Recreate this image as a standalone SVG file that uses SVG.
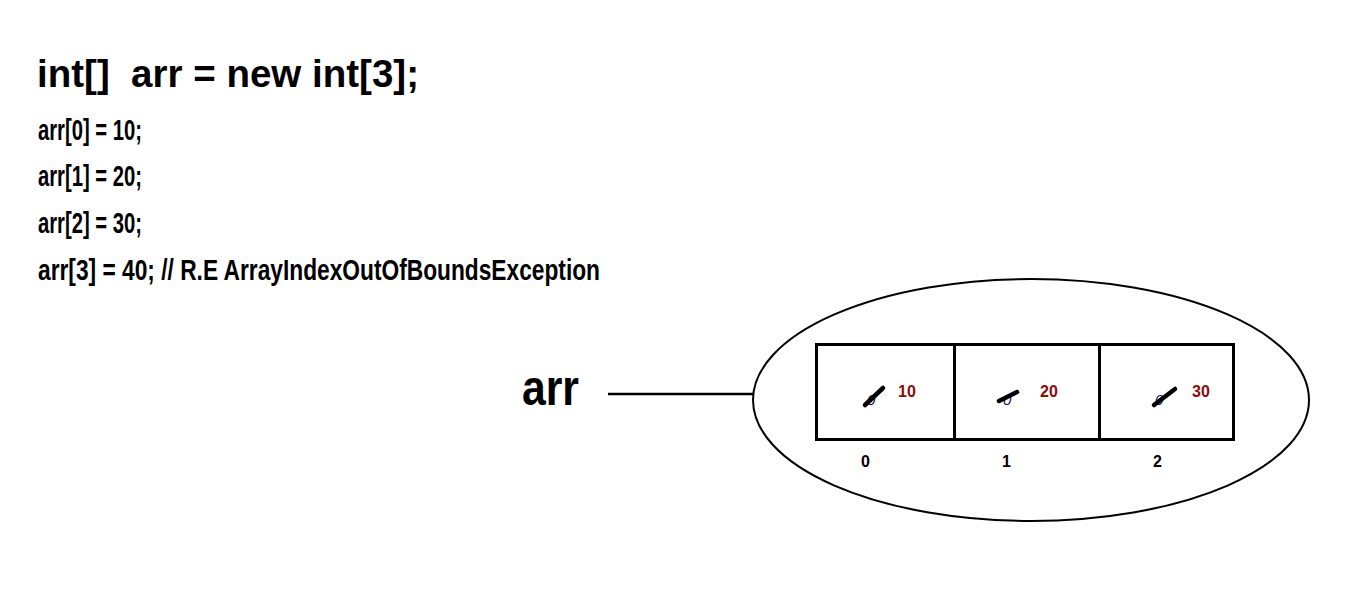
<svg xmlns="http://www.w3.org/2000/svg" width="1360" height="613" viewBox="0 0 1360 613">
<style>
.t{font-family:"Liberation Sans",Arial,sans-serif;font-weight:bold;fill:#000}
.v{font-family:"Liberation Sans",Arial,sans-serif;font-weight:bold;fill:#8b0a0a;font-size:16px}
.ix{font-family:"Liberation Sans",Arial,sans-serif;font-weight:bold;fill:#000;font-size:16px}
.o{font-family:"Liberation Sans",Arial,sans-serif;font-size:15px;font-style:italic;fill:#1a1a60}
.st{stroke:#000;stroke-width:4.5;stroke-linecap:round}
.box{fill:none;stroke:#000;stroke-width:3}
</style>
<rect width="1360" height="613" fill="#fff"/>
<g id="code">
<text class="t" x="37" y="87" font-size="39" textLength="382" lengthAdjust="spacingAndGlyphs" xml:space="preserve">int[]  arr = new int[3];</text>
<text class="t" x="38" y="140" font-size="29" textLength="104" lengthAdjust="spacingAndGlyphs">arr[0] = 10;</text>
<text class="t" x="38" y="186" font-size="29" textLength="104" lengthAdjust="spacingAndGlyphs">arr[1] = 20;</text>
<text class="t" x="38" y="233" font-size="29" textLength="104" lengthAdjust="spacingAndGlyphs">arr[2] = 30;</text>
<text class="t" x="38" y="280" font-size="29" textLength="562" lengthAdjust="spacingAndGlyphs">arr[3] = 40; // R.E ArrayIndexOutOfBoundsException</text>
</g>
<g id="arr-label">
<text class="t" x="522" y="405" font-size="50" textLength="57" lengthAdjust="spacingAndGlyphs">arr</text>
</g>
<g id="connectors">
<line x1="608" y1="394" x2="753" y2="394" stroke="#000" stroke-width="2.5"/>
</g>
<g id="heap-object">
<ellipse cx="1031" cy="400" rx="278" ry="121" fill="none" stroke="#000" stroke-width="2"/>
</g>
<g id="array">
<rect class="box" x="816.5" y="344.5" width="417" height="95"/>
<line x1="954.5" y1="344" x2="954.5" y2="440" stroke="#000" stroke-width="3"/>
<line x1="1099.5" y1="344" x2="1099.5" y2="440" stroke="#000" stroke-width="3"/>
</g>
<g id="cell0">
<text class="o" x="867" y="405">0</text>
<line class="st" x1="865" y1="405" x2="883" y2="388"/>
<text class="v" x="898" y="397">10</text>
<text class="ix" x="861" y="467">0</text>
</g>
<g id="cell1">
<text class="o" x="1003" y="405">0</text>
<line class="st" x1="999" y1="401" x2="1017" y2="392"/>
<text class="v" x="1040" y="397">20</text>
<text class="ix" x="1002" y="467">1</text>
</g>
<g id="cell2">
<text class="o" x="1155" y="405">0</text>
<line class="st" x1="1154" y1="405" x2="1175" y2="389"/>
<text class="v" x="1192" y="397">30</text>
<text class="ix" x="1153" y="467">2</text>
</g>
</svg>
